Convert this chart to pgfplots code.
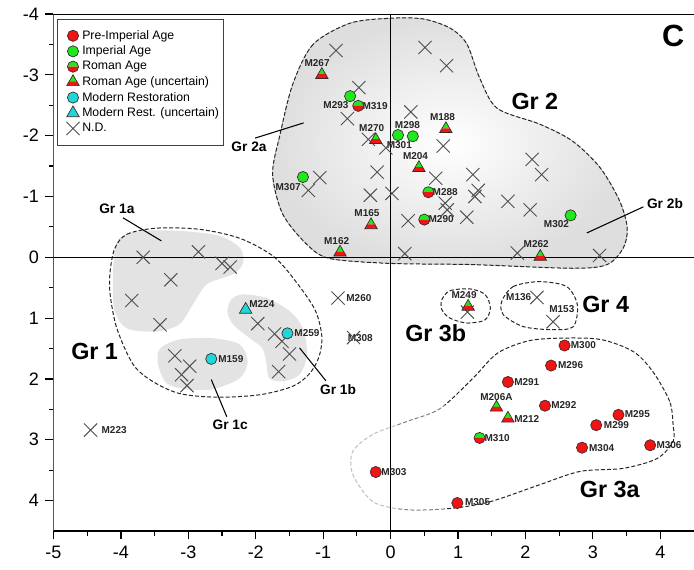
\documentclass[border=0pt]{standalone}
\usepackage{fontspec}
\setmainfont{Liberation Sans}
\usepackage{pgfplots}
\pgfplotsset{compat=1.18}
\definecolor{pred}{RGB}{240,20,20}
\definecolor{pgreen}{RGB}{30,232,30}
\definecolor{pcyan}{RGB}{30,215,215}
\definecolor{ndgray}{RGB}{80,80,80}
\definecolor{mkline}{RGB}{60,40,40}

\pgfdeclareplotmark{halfcirc}{%
  \pgfpathmoveto{\pgfqpoint{\pgfplotmarksize}{0pt}}%
  \pgfpatharc{0}{180}{\pgfplotmarksize}%
  \pgfpathclose
  \pgfsetfillcolor{pgreen}\pgfusepath{fill}%
  \pgfpathmoveto{\pgfqpoint{-\pgfplotmarksize}{0pt}}%
  \pgfpatharc{180}{360}{\pgfplotmarksize}%
  \pgfpathclose
  \pgfsetfillcolor{pred}\pgfusepath{fill}%
  \pgfpathcircle{\pgfpointorigin}{\pgfplotmarksize}%
  \pgfusepath{stroke}%
}
\pgfdeclareplotmark{halftri}{%
  \pgfpathmoveto{\pgfqpoint{0pt}{\pgfplotmarksize}}%
  \pgfpathlineto{\pgfqpoint{-0.5196\pgfplotmarksize}{0.1\pgfplotmarksize}}%
  \pgfpathlineto{\pgfqpoint{0.5196\pgfplotmarksize}{0.1\pgfplotmarksize}}%
  \pgfpathclose
  \pgfsetfillcolor{pgreen}\pgfusepath{fill}%
  \pgfpathmoveto{\pgfqpoint{-0.5196\pgfplotmarksize}{0.1\pgfplotmarksize}}%
  \pgfpathlineto{\pgfqpoint{-0.866\pgfplotmarksize}{-0.5\pgfplotmarksize}}%
  \pgfpathlineto{\pgfqpoint{0.866\pgfplotmarksize}{-0.5\pgfplotmarksize}}%
  \pgfpathlineto{\pgfqpoint{0.5196\pgfplotmarksize}{0.1\pgfplotmarksize}}%
  \pgfpathclose
  \pgfsetfillcolor{pred}\pgfusepath{fill}%
  \pgfpathmoveto{\pgfqpoint{0pt}{\pgfplotmarksize}}%
  \pgfpathlineto{\pgfqpoint{-0.866\pgfplotmarksize}{-0.5\pgfplotmarksize}}%
  \pgfpathlineto{\pgfqpoint{0.866\pgfplotmarksize}{-0.5\pgfplotmarksize}}%
  \pgfpathclose
  \pgfusepath{stroke}%
}

\newcommand{\lbl}{\fontsize{7.5}{8}\selectfont\bfseries}
\newcommand{\grbig}{\fontsize{17.5}{20}\selectfont\bfseries}
\newcommand{\grsmall}{\fontsize{10.3}{12}\selectfont\bfseries}
\tikzset{grdash/.style={black!85, line width=0.75pt, dash pattern=on 3pt off 1.6pt}}

\begin{document}
\begin{tikzpicture}
\begin{axis}[
  scale only axis, width=480.375pt, height=387.75pt,
  xmin=-5, xmax=4.5, ymin=-4, ymax=4.5, y dir=reverse,
  axis line style={draw=none},
  tick pos=left, tick align=outside,
  xtick={-5,...,4}, ytick={-4,...,4},
  minor x tick num=1, minor y tick num=1,
  major tick length=6pt, minor tick length=3.5pt,
  every tick/.style={black, line width=0.9pt},
  /pgf/number format/assume math mode=true,
  tick label style={font=\fontsize{13.5}{15}\selectfont},
  yticklabel style={xshift=-1.5pt},
  xticklabel style={yshift=-1.5pt},
  legend style={at={(0.006,0.991)}, anchor=north west,
    font=\fontsize{9.2}{11}\selectfont, draw=black!75, line width=0.5pt,
    inner xsep=1pt, inner ysep=6.5pt, row sep=-0.5pt,
    /tikz/every even column/.append style={column sep=3.8pt}},
  legend cell align=left,
  legend image code/.code={\path (0cm,0cm); \draw[#1] plot coordinates {(0.36cm,0cm)};},
]
% ---- group shapes ----
\fill[inner color=white, outer color=black!13]
  plot[smooth cycle] coordinates {(-0.60,-3.85) (-1.15,-3.50) (-1.45,-2.85) (-1.64,-2.02) (-1.75,-1.37) (-1.60,-0.71) (-1.24,-0.21) (-0.90,0.02) (-0.01,0.10) (1.22,0.12) (2.70,0.18) (3.21,0.12) (3.45,-0.15) (3.51,-0.48) (3.40,-0.92) (3.11,-1.47) (2.70,-1.91) (2.21,-2.19) (1.58,-2.45) (1.32,-2.95) (1.13,-3.51) (0.88,-3.77) (0.48,-3.92) (-0.01,-3.93)};
\draw[grdash]
  plot[smooth cycle] coordinates {(-0.60,-3.85) (-1.15,-3.50) (-1.45,-2.85) (-1.64,-2.02) (-1.75,-1.37) (-1.60,-0.71) (-1.24,-0.21) (-0.90,0.02) (-0.01,0.10) (1.22,0.12) (2.70,0.18) (3.21,0.12) (3.45,-0.15) (3.51,-0.48) (3.40,-0.92) (3.11,-1.47) (2.70,-1.91) (2.21,-2.19) (1.58,-2.45) (1.32,-2.95) (1.13,-3.51) (0.88,-3.77) (0.48,-3.92) (-0.01,-3.93)};
\fill[black!11] plot[smooth cycle] coordinates {(-4.06,-0.26) (-3.72,-0.43) (-3.08,-0.43) (-2.53,-0.35) (-2.23,-0.15) (-2.19,0.10) (-2.34,0.28) (-2.72,0.44) (-2.93,0.77) (-3.13,1.10) (-3.47,1.22) (-3.91,1.17) (-4.09,0.89) (-4.12,0.40)};
\fill[black!11] plot[smooth cycle] coordinates {(-2.36,0.69) (-2.19,0.61) (-1.84,0.67) (-1.49,0.89) (-1.30,1.17) (-1.24,1.60) (-1.35,1.93) (-1.60,2.04) (-1.80,1.99) (-1.84,1.76) (-1.90,1.50) (-2.09,1.33) (-2.34,1.10) (-2.42,0.89)};
\fill[black!11] plot[smooth cycle] coordinates {(-3.42,1.50) (-3.13,1.35) (-2.64,1.33) (-2.24,1.43) (-2.12,1.71) (-2.24,1.99) (-2.64,2.17) (-3.02,2.17) (-3.32,2.07) (-3.45,1.76)};
\draw[grdash]
  plot[smooth cycle] coordinates {(-4.09,-0.15) (-3.91,-0.38) (-3.47,-0.48) (-2.83,-0.46) (-2.23,-0.31) (-1.72,0.00) (-1.35,0.48) (-1.11,0.89) (-1.02,1.30) (-1.06,1.63) (-1.20,1.91) (-1.45,2.12) (-1.94,2.26) (-2.58,2.30) (-3.13,2.24) (-3.53,2.04) (-3.82,1.76) (-4.06,1.17) (-4.16,0.61) (-4.16,0.23)};
\draw[grdash]
  plot[smooth cycle] coordinates {(0.76,0.70) (0.88,0.55) (1.18,0.52) (1.40,0.61) (1.48,0.83) (1.40,1.03) (1.13,1.08) (0.88,1.00) (0.76,0.86)};
\draw[grdash]
  plot[smooth cycle] coordinates {(1.65,0.72) (1.82,0.48) (2.21,0.40) (2.61,0.48) (2.77,0.78) (2.71,1.14) (2.41,1.19) (1.97,1.14) (1.67,0.94)};
\begin{scope}
\clip (-5,-4) rectangle (0.1,4.5);
\draw[grdash, black!25]
  plot[smooth cycle] coordinates {(4.19,2.75) (4.14,2.37) (3.89,1.88) (3.60,1.55) (3.11,1.35) (2.47,1.33) (2.02,1.38) (1.58,1.58) (1.22,1.99) (0.73,2.49) (0.24,2.70) (-0.26,2.91) (-0.56,3.19) (-0.56,3.57) (-0.26,4.02) (0.24,4.15) (0.88,4.13) (1.47,4.02) (2.21,3.74) (2.81,3.52) (3.45,3.47) (3.95,3.31) (4.19,3.03)};
\end{scope}
\begin{scope}
\clip (0.1,-4) rectangle (0.8,4.5);
\draw[grdash, black!50]
  plot[smooth cycle] coordinates {(4.19,2.75) (4.14,2.37) (3.89,1.88) (3.60,1.55) (3.11,1.35) (2.47,1.33) (2.02,1.38) (1.58,1.58) (1.22,1.99) (0.73,2.49) (0.24,2.70) (-0.26,2.91) (-0.56,3.19) (-0.56,3.57) (-0.26,4.02) (0.24,4.15) (0.88,4.13) (1.47,4.02) (2.21,3.74) (2.81,3.52) (3.45,3.47) (3.95,3.31) (4.19,3.03)};
\end{scope}
\begin{scope}
\clip (0.8,-4) rectangle (4.5,4.5);
\draw[grdash]
  plot[smooth cycle] coordinates {(4.19,2.75) (4.14,2.37) (3.89,1.88) (3.60,1.55) (3.11,1.35) (2.47,1.33) (2.02,1.38) (1.58,1.58) (1.22,1.99) (0.73,2.49) (0.24,2.70) (-0.26,2.91) (-0.56,3.19) (-0.56,3.57) (-0.26,4.02) (0.24,4.15) (0.88,4.13) (1.47,4.02) (2.21,3.74) (2.81,3.52) (3.45,3.47) (3.95,3.31) (4.19,3.03)};
\end{scope}
% ---- frame and zero lines ----
\draw[black, line width=0.9pt] (-5,-4) -- (4.5,-4);
\draw[black, line width=1.1pt] (-5,-4) -- (-5,4.5) -- (4.5,4.5);
\draw[black, line width=0.8pt] (-5,0) -- (4.5,0);
\draw[black, line width=0.8pt] (0,-4) -- (0,4.5);
% ---- leader lines ----
\draw[black, line width=0.8pt] (-3.97,-0.65) -- (-3.40,-0.27);
\draw[black, line width=0.8pt] (-2.01,-1.96) -- (-1.29,-2.21);
\draw[black, line width=0.8pt] (3.75,-0.83) -- (2.91,-0.40);
\draw[black, line width=0.8pt] (-1.35,1.49) -- (-0.96,2.03);
\draw[black, line width=0.8pt] (-2.66,2.01) -- (-2.43,2.62);
% ---- N.D. ----
\addplot[only marks, mark=x, mark size=7pt, draw=ndgray, mark options={line width=0.7pt}, forget plot] coordinates {
(-0.81,-3.40) (-0.47,-2.79) (-0.64,-2.28) (-0.33,-1.94) (-0.07,-1.80) (-0.20,-1.40)
(-0.30,-1.02) (0.02,-1.05) (-1.05,-1.31) (-1.22,-1.10) (0.51,-3.45) (0.83,-3.15)
(0.30,-2.39) (0.78,-1.83) (0.67,-1.30) (1.22,-1.36) (1.30,-1.10) (1.25,-1.00)
(1.74,-0.92) (0.81,-0.89) (0.84,-0.78) (0.26,-0.60) (1.13,-0.66) (0.21,-0.06)
(1.88,-0.07) (2.10,-1.61) (2.24,-1.36) (2.07,-0.78) (3.10,-0.03)
(-3.67,0.00) (-2.85,-0.09) (-2.50,0.10) (-2.38,0.16) (-3.26,0.37) (-3.84,0.71)
(-3.42,1.11) (-3.20,1.62) (-2.98,1.79) (-3.10,1.93) (-3.02,2.11)
(-1.97,1.09) (-1.72,1.26) (-1.61,1.38) (-1.50,1.59) (-1.66,1.88)
(-4.45,2.84) (-0.78,0.67) (-0.55,1.32) (1.14,0.90) (2.17,0.66) (2.41,1.06)
};
% ---- coloured markers ----
\addplot[only marks, mark=*, mark size=4.2pt, draw=mkline, fill=pred, mark options={line width=0.5pt}] coordinates {
(2.58,1.45) (2.38,1.78) (1.74,2.05) (2.29,2.44) (3.38,2.59) (3.05,2.76) (2.84,3.13) (3.85,3.09) (-0.22,3.53) (0.99,4.04)
};
\addlegendentry{Pre-Imperial Age}
\addplot[only marks, mark=*, mark size=4.2pt, draw=mkline, fill=pgreen, mark options={line width=0.5pt}] coordinates {
(-0.60,-2.65) (0.33,-1.99) (0.11,-2.01) (-1.30,-1.32) (2.67,-0.69)
};
\addlegendentry{Imperial Age}
\addplot[only marks, mark=halfcirc, mark size=4.2pt, draw=mkline, mark options={line width=0.5pt}] coordinates {
(-0.48,-2.49) (0.56,-1.07) (0.50,-0.62) (1.32,2.97)
};
\addlegendentry{Roman Age}
\addplot[only marks, mark=halftri, mark size=5.4pt, draw=mkline, mark options={line width=0.5pt}] coordinates {
(-1.02,-3.00) (-0.22,-1.93) (0.82,-2.11) (0.42,-1.47) (-0.29,-0.53) (-0.75,-0.08) (2.22,-0.01) (1.15,0.81) (1.57,2.47) (1.74,2.65)
};
\addlegendentry{Roman Age (uncertain)}
\addplot[only marks, mark=*, mark size=4.2pt, draw=mkline, fill=pcyan, mark options={line width=0.5pt}] coordinates {
(-2.66,1.67) (-1.53,1.25)
};
\addlegendentry{Modern Restoration}
\addplot[only marks, mark=triangle*, mark size=5.4pt, draw=mkline, fill=pcyan, mark options={line width=0.5pt}] coordinates {
(-2.15,0.86)
};
\addlegendentry{Modern Rest. (uncertain)}
\addlegendimage{only marks, mark=x, mark size=7pt, draw=ndgray, mark options={line width=0.7pt}}
\addlegendentry{N.D.}
% ---- point labels ----
\begin{scope}[every node/.style={font=\lbl, text=black!85, inner sep=0pt}]
\node at (-1.09,-3.20) {M267};
\node at (-0.81,-2.50) {M293};
\node at (-0.23,-2.49) {M319};
\node at (-0.28,-2.12) {M270};
\node at (0.25,-2.18) {M298};
\node at (0.77,-2.31) {M188};
\node at (0.13,-1.84) {M301};
\node at (0.37,-1.67) {M204};
\node at (0.81,-1.07) {M288};
\node at (0.75,-0.63) {M290};
\node at (-0.35,-0.72) {M165};
\node at (2.46,-0.54) {M302};
\node at (2.16,-0.21) {M262};
\node at (-1.52,-1.16) {M307};
\node at (-0.80,-0.26) {M162};
\node at (-1.91,0.76) {M224};
\node at (-1.24,1.25) {M259};
\node at (-2.37,1.67) {M159};
\node at (-4.10,2.84) {M223};
\node at (-0.47,0.67) {M260};
\node at (-0.45,1.32) {M308};
\node at (1.09,0.62) {M249};
\node at (1.90,0.65) {M136};
\node at (2.54,0.85) {M153};
\node at (2.86,1.44) {M300};
\node at (2.67,1.77) {M296};
\node at (2.02,2.05) {M291};
\node at (1.57,2.29) {M206A};
\node at (2.02,2.66) {M212};
\node at (2.57,2.43) {M292};
\node at (3.66,2.58) {M295};
\node at (3.35,2.75) {M299};
\node at (1.58,2.98) {M310};
\node at (3.13,3.13) {M304};
\node at (4.13,3.09) {M306};
\node at (0.05,3.53) {M303};
\node at (1.29,4.03) {M305};
\end{scope}
% ---- group labels ----
\node[font=\grbig, inner sep=0pt] at (2.14,-2.57) {Gr 2};
\node[font=\grbig, inner sep=0pt] at (-4.39,1.55) {Gr 1};
\node[font=\grbig, inner sep=0pt] at (0.67,1.25) {Gr 3b};
\node[font=\grbig, inner sep=0pt] at (3.19,0.78) {Gr 4};
\node[font=\grbig, inner sep=0pt] at (3.25,3.81) {Gr 3a};
\node[font=\fontsize{23}{26}\selectfont\bfseries, inner sep=0pt] at (4.19,-3.64) {C};
\node[font=\grsmall, inner sep=0pt] at (-4.06,-0.79) {Gr 1a};
\node[font=\grsmall, inner sep=0pt] at (-2.10,-1.82) {Gr 2a};
\node[font=\grsmall, inner sep=0pt] at (4.07,-0.89) {Gr 2b};
\node[font=\grsmall, inner sep=0pt] at (-0.78,2.18) {Gr 1b};
\node[font=\grsmall, inner sep=0pt] at (-2.38,2.75) {Gr 1c};
\end{axis}
\pgfresetboundingbox
\path[use as bounding box] (-40.125pt,-28.5pt) rectangle (480.375pt,398.25pt);
\end{tikzpicture}
\end{document}
